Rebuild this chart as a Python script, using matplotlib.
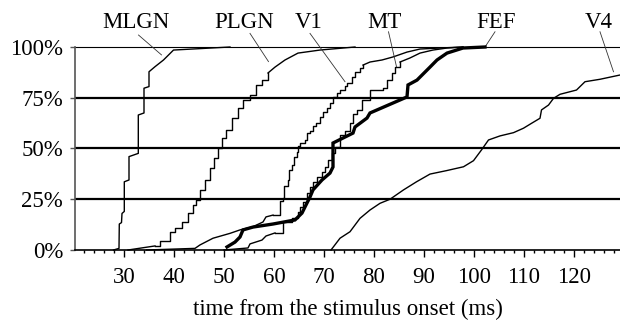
import matplotlib
matplotlib.use("Agg")
import matplotlib.pyplot as plt
from matplotlib.ticker import MultipleLocator, FixedLocator

# ---------------- data (ms, cumulative %) ----------------
mlgn_x = [27.9, 29.0, 29.06, 29.5, 29.6, 30.06, 30.06, 31.0, 31.0, 32.86, 32.86, 34.0, 34.0, 35.0, 35.0, 36.2, 37.9, 39.9, 51.2]
mlgn_y = [0, 0.8, 12.8, 13.5, 18.0, 19.0, 33.6, 34.5, 46.0, 47.6, 66.5, 67.5, 79.7, 80.5, 87.8, 90.3, 93.6, 98.5, 100]

plgn_x = [30.8, 36.2, 37.2, 39.2, 40.2, 41.6, 42.8, 43.8, 44.4, 45.2, 46.2, 47.2, 48.0, 48.8, 49.6, 50.4, 51.6, 52.8, 53.8, 55.2, 56.4, 57.6, 58.8, 60.2, 62.2, 64.8, 69.2, 76.2]
plgn_y = [0, 2.0, 4.4, 8.9, 10.8, 13.8, 18.2, 22.2, 24.6, 29.6, 34.5, 40.4, 45.3, 50.2, 55.2, 59.1, 65.0, 70.0, 73.9, 76.4, 81.3, 83.7, 87.2, 90.1, 93.6, 97.0, 98.5, 100]

v1_x = [34.5, 44.2, 45.2, 47.8, 51.2, 53.2, 55.8, 57.8, 58.4, 59.8, 61.2, 61.2, 61.8, 62.0, 62.8, 63.0, 63.6, 64.0, 64.6, 64.8, 65.2, 66.2, 66.6, 67.2, 67.8, 68.4, 69.2, 69.8, 70.6, 71.2, 71.8, 72.6, 73.2, 74.2, 74.6, 75.6, 76.2, 77.2, 77.8, 79.2, 81.6, 83.8, 86.6, 89.2, 93.2, 97.8]
v1_y = [0, 0.8, 2.5, 5.8, 8.2, 9.9, 11.5, 13.8, 16.3, 17.2, 19.7, 24.1, 25.6, 31.5, 34.5, 39.4, 41.9, 45.8, 48.3, 51.2, 52.7, 54.2, 57.6, 58.6, 61.1, 62.6, 65.5, 68.0, 70.0, 72.4, 75.4, 77.3, 78.8, 80.8, 82.3, 85.2, 87.7, 89.7, 91.1, 92.6, 93.6, 95.1, 97.5, 99.0, 99.5, 100]

mt_x = [50.0, 54.8, 55.2, 57.6, 58.4, 60.2, 61.8, 63.6, 64.8, 65.2, 65.8, 66.6, 67.2, 67.8, 68.6, 69.6, 70.2, 70.8, 71.6, 72.2, 73.2, 73.2, 74.2, 75.2, 75.8, 76.6, 77.6, 79.2, 81.8, 82.6, 83.6, 84.2, 85.2, 87.2, 89.2, 91.8, 94.6, 97.8]
mt_y = [0, 1.0, 3.0, 4.9, 6.9, 8.4, 13.8, 15.8, 18.7, 21.2, 23.6, 28.1, 31.0, 33.5, 36.0, 38.4, 40.9, 44.3, 47.8, 50.7, 53.2, 56.7, 58.6, 62.6, 67.0, 69.0, 73.9, 78.8, 79.8, 83.7, 87.2, 90.1, 92.6, 94.6, 97.0, 98.5, 99.5, 100]

fef_x = [50.6, 52.2, 53.2, 53.8, 55.8, 59.8, 64.2, 65.6, 66.2, 67.2, 67.8, 69.6, 71.2, 71.8, 71.8, 75.8, 76.2, 78.6, 79.2, 86.6, 86.8, 88.6, 91.2, 92.6, 94.6, 97.8, 102.2]
fef_y = [1.5, 3.9, 6.4, 9.9, 11.3, 12.8, 14.8, 18.2, 21.2, 26.1, 29.6, 34.5, 37.9, 40.9, 52.7, 57.6, 60.6, 65.0, 67.5, 75.4, 81.3, 83.7, 90.1, 93.6, 97.0, 99.5, 100]

v4_x = [71.4, 71.9, 73.2, 75.2, 77.2, 79.2, 81.2, 83.2, 85.9, 88.5, 91.2, 94.5, 97.9, 99.9, 101.5, 102.9, 105.2, 107.9, 109.9, 111.5, 113.2, 113.5, 114.9, 115.9, 117.2, 120.5, 122.2, 125.2, 129.2]
v4_y = [0, 1.6, 5.8, 9.0, 15.6, 19.7, 23.0, 25.0, 29.6, 33.6, 37.4, 39.1, 41.0, 44.0, 49.3, 54.2, 56.2, 57.8, 60.0, 62.4, 64.9, 69.0, 71.4, 74.7, 76.7, 78.8, 82.9, 84.1, 86.2]

area_names = ["MLGN", "PLGN", "V1", "MT", "FEF", "V4"]
label_pos_x = [32.4, 54.0, 67.0, 82.0, 104.4, 125.0]
leader_start = [(32.9, 105.9), (55.2, 106.7), (67.2, 106.7), (82.9, 107.5), (104.2, 107.5), (125.2, 107.5)]
leader_end = [(37.5, 96.1), (58.9, 92.8), (74.2, 82.9), (84.5, 90.3), (102.2, 100.0), (127.9, 87.8)]

x_ticks = [30, 40, 50, 60, 70, 80, 90, 100, 110, 120]
x_ticklabels = ["30", "40", "50", "60", "70", "80", "90", "100", "110", "120"]
y_ticks = [0, 25, 50, 75, 100]
y_ticklabels = ["0%", "25%", "50%", "75%", "100%"]
x_label = "time from the stimulus onset (ms)"

# ---------------- figure ----------------
plt.rcParams['font.family'] = ['Liberation Serif', 'DejaVu Serif']
plt.rcParams['font.size'] = 16.5

fig = plt.figure(figsize=(6.2, 3.23), dpi=100)
ax = fig.add_axes([75/620, 73/323, 545/620, 203/323])
ax.set_xlim(20.2, 129.2)
ax.set_ylim(0, 100)

for spine in ['top', 'right']:
    ax.spines[spine].set_visible(False)
ax.spines['left'].set_color('#555555')
ax.spines['left'].set_linewidth(1.2)
ax.spines['bottom'].set_color('black')
ax.spines['bottom'].set_linewidth(1.2)

# horizontal reference lines
for yv in [25, 50, 75]:
    ax.axhline(yv, color='black', lw=1.6, zorder=1)
ax.axhline(100, color='black', lw=0.8, zorder=1, clip_on=False)

thin = dict(color='black', lw=1.0, clip_on=False, zorder=3)


def plot_mixed(xs, ys, a, b):
    """smooth tails, stair-stepped middle section [a, b]"""
    ax.plot(xs[:a + 1], ys[:a + 1], **thin)
    ax.plot(xs[a:b + 1], ys[a:b + 1], drawstyle='steps-post', **thin)
    ax.plot(xs[b:], ys[b:], **thin)


ax.plot(mlgn_x, mlgn_y, **thin)
plot_mixed(plgn_x, plgn_y, 1, 22)
plot_mixed(v1_x, v1_y, 9, 38)
plot_mixed(mt_x, mt_y, 5, 32)
ax.plot(v4_x, v4_y, **thin)
ax.plot(fef_x, fef_y, color='black', lw=2.4, clip_on=False, zorder=4, solid_joinstyle='miter')

# labels with leader lines
for name, lx, (sx, sy), (ex, ey) in zip(area_names, label_pos_x, leader_start, leader_end):
    ax.text(lx, 109.5, name, ha='center', va='baseline', fontsize=16.5)
    ax.plot([sx, ex], [sy, ey], color='#333333', lw=0.6, clip_on=False, zorder=3)

ax.xaxis.set_major_locator(FixedLocator(x_ticks))
ax.set_xticklabels(x_ticklabels)
ax.xaxis.set_minor_locator(MultipleLocator(2))
ax.set_yticks(y_ticks)
ax.set_yticklabels(y_ticklabels)
ax.tick_params(axis='x', which='major', direction='out', length=5, width=1.0, pad=7)
ax.tick_params(axis='x', which='minor', direction='out', length=2.5, width=1.0)
ax.tick_params(axis='y', which='major', direction='out', length=3.5, width=1.0, pad=5, color='#555555')
ax.set_xlabel(x_label, fontsize=16.5, labelpad=8)

fig.savefig("out.png", dpi=100)
